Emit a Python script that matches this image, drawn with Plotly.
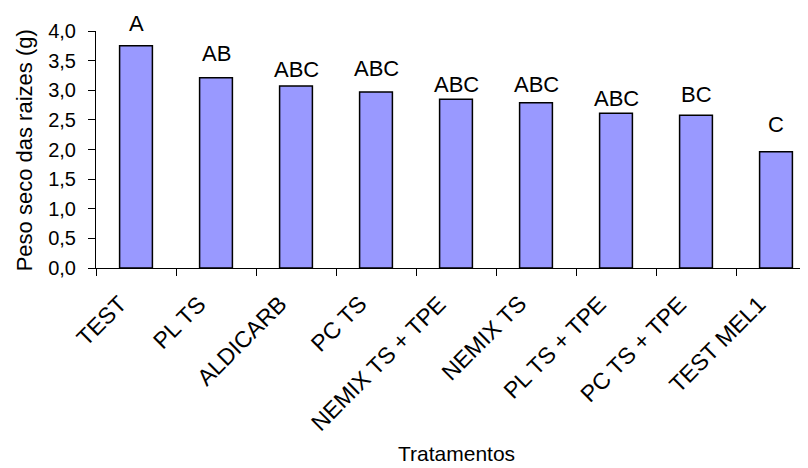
import plotly.graph_objects as go

categories = ["TEST", "PL TS", "ALDICARB", "PC TS", "NEMIX TS + TPE",
              "NEMIX TS", "PL TS + TPE", "PC TS + TPE", "TEST MEL1"]
values = [3.75, 3.21, 3.07, 2.97, 2.85, 2.79, 2.61, 2.58, 1.96]
letters = ["A", "AB", "ABC", "ABC", "ABC", "ABC", "ABC", "BC", "C"]
letter_base = [3.96, 3.46, 3.19, 3.20, 2.93, 2.93, 2.70, 2.77, 2.26]
y_ticks = [0, 0.5, 1.0, 1.5, 2.0, 2.5, 3.0, 3.5, 4.0]

FONT = "Liberation Sans, Arial, sans-serif"

fig = go.Figure()
fig.add_trace(go.Bar(
    x=categories, y=values, width=0.41,
    marker=dict(color="#9999FF", line=dict(color="black", width=1.5)),
    showlegend=False, hoverinfo="x+y",
))

# significance letters above bars
for c, t, yb in zip(categories, letters, letter_base):
    fig.add_annotation(x=c, y=yb, xref="x", yref="y", text=t, showarrow=False,
                       xanchor="center", yanchor="bottom", yshift=-5,
                       font=dict(family=FONT, size=22, color="black"))

# rotated category labels
for c in categories:
    fig.add_annotation(x=c, y=0, xref="x", yref="paper", text=c, textangle=-45,
                       showarrow=False, xanchor="right", yanchor="top",
                       xshift=-2, yshift=-20,
                       font=dict(family=FONT, size=23, color="black"))

fig.add_annotation(x=0.507, y=-0.84, xref="paper", yref="paper", text="Tratamentos",
                   showarrow=False, xanchor="center", yanchor="bottom",
                   font=dict(family=FONT, size=21, color="black"))
fig.add_annotation(x=-0.101, y=0.497, xref="paper", yref="paper",
                   text="Peso seco das raizes (g)", textangle=-90,
                   showarrow=False, xanchor="center", yanchor="middle",
                   font=dict(family=FONT, size=22, color="black"))

# page body has an 8px default margin, so the figure is 8px smaller
fig.update_layout(
    width=800, height=460,
    margin=dict(l=88, r=0, t=23, b=200, pad=0),
    paper_bgcolor="white", plot_bgcolor="white",
    separators=",.",
    font=dict(family=FONT, color="black"),
    bargap=0.59,
)
fig.update_xaxes(
    type="category", range=[-0.5, 8.4], automargin=False,
    showline=True, linecolor="black", linewidth=1,
    ticks="outside", tickson="boundaries", ticklen=7, tickcolor="black",
    showticklabels=False,
    showgrid=False, zeroline=False,
)
fig.update_yaxes(
    range=[0, 4.0], tickvals=y_ticks, tickformat=".1f", automargin=False,
    showline=True, linecolor="black", linewidth=1,
    ticks="outside", ticklen=7, tickcolor="black",
    tickfont=dict(family=FONT, size=20, color="black"),
    ticklabelstandoff=8,
    showgrid=False, zeroline=False,
)

fig.write_html("out.html")
